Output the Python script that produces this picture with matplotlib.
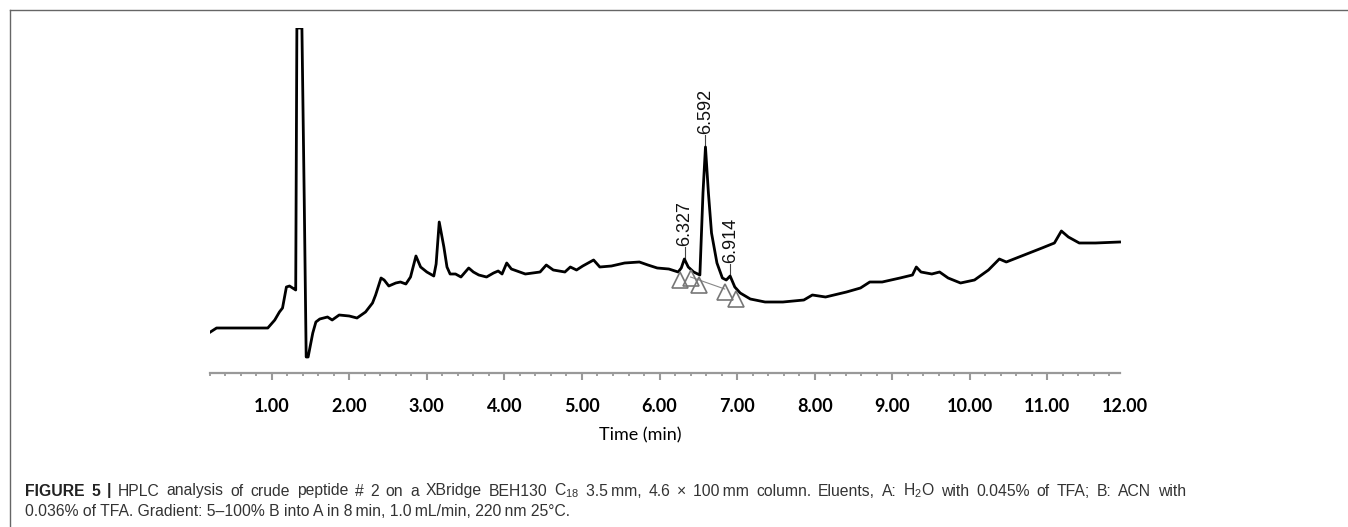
import numpy as np
import matplotlib
matplotlib.use('Agg')
import matplotlib.pyplot as plt
from matplotlib.lines import Line2D
from matplotlib.ticker import FixedLocator

# chromatogram trace (time in min, signal in arbitrary units)
time = [0.21, 0.29, 0.60, 0.95, 1.04, 1.10, 1.14, 1.19, 1.23, 1.29, 1.31, 1.325, 1.39,
        1.42, 1.445, 1.47, 1.53, 1.57, 1.62, 1.72, 1.78, 1.87, 2.00, 2.10, 2.21, 2.30,
        2.34, 2.41, 2.45, 2.51, 2.60, 2.66, 2.73, 2.79, 2.86, 2.92, 3.00, 3.09, 3.12,
        3.16, 3.22, 3.26, 3.30, 3.37, 3.44, 3.54, 3.60, 3.67, 3.77, 3.86, 3.92, 3.97,
        4.03, 4.09, 4.27, 4.46, 4.54, 4.63, 4.78, 4.85, 4.93, 5.01, 5.15, 5.23, 5.38,
        5.55, 5.74, 5.85, 5.97, 6.12, 6.24, 6.28, 6.32, 6.37, 6.44, 6.52, 6.56, 6.592,
        6.63, 6.67, 6.74, 6.81, 6.86, 6.91, 6.97, 7.04, 7.17, 7.36, 7.59, 7.86, 7.97,
        8.14, 8.41, 8.59, 8.71, 8.87, 9.10, 9.26, 9.31, 9.37, 9.51, 9.61, 9.72, 9.88,
        10.06, 10.24, 10.38, 10.47, 10.70, 10.93, 11.09, 11.18, 11.27, 11.41, 11.62, 11.93]
signal = [41, 45, 45, 45, 53, 61, 65, 86, 87, 84, 83, 345, 345,
          173, 16, 16, 40, 51, 54, 56, 53, 58, 57, 55, 61, 70,
          78, 95, 93, 87, 90, 91, 89, 96, 117, 106, 101, 97, 109,
          151, 126, 106, 99, 99, 96, 105, 101, 98, 96, 100, 102, 99,
          110, 104, 99, 101, 108, 103, 101, 106, 103, 107, 113, 106, 107,
          110, 111, 108, 105, 104, 101, 105, 114, 106, 101, 98, 180, 226,
          180, 140, 110, 95, 93, 97, 86, 80, 74, 71, 71, 73, 78,
          76, 81, 85, 91, 91, 95, 98, 106, 101, 99, 101, 95, 90,
          93, 103, 114, 111, 118, 125, 130, 142, 136, 130, 130, 131]

# integrated peaks
peak_rt = [6.327, 6.592, 6.914]
peak_top = [114, 226, 97]
peak_labels = ['6.327', '6.592', '6.914']

# integration start/stop marks
mark_t = [6.26, 6.40, 6.51, 6.84, 6.99]
mark_s = [93, 95, 88, 81, 74]
base_t = [6.40, 6.84]
base_s = [96, 84]

tick_vals = list(range(1, 13))
tick_labels = ['%.2f' % v for v in tick_vals]

caption1 = ('HPLC analysis of crude peptide # 2 on a XBridge BEH130 C$_{18}$ 3.5\u2009mm, '
            '4.6 \u00d7 100\u2009mm column. Eluents, A: H$_{2}$O with 0.045% of TFA; B: ACN with')
caption2 = '0.036% of TFA. Gradient: 5\u2013100% B into A in 8\u2009min, 1.0\u2009mL/min, 220\u2009nm 25\u00b0C.'

plt.rcParams['mathtext.fontset'] = 'custom'
plt.rcParams['mathtext.rm'] = 'Liberation Sans'
plt.rcParams['mathtext.it'] = 'Liberation Sans'

W, H = 1348, 527
fig = plt.figure(figsize=(W / 100, H / 100), dpi=100)
ax = fig.add_axes([209.6 / W, 1 - 373 / H, (1125 - 209.6) / W, (373 - 28) / H])

ax.plot(time, signal, color='black', lw=2.0, solid_joinstyle='round', zorder=3)
ax.plot(base_t, base_s, color='#888888', lw=0.8, zorder=2)
ax.plot(mark_t, mark_s, linestyle='none', marker='^', ms=11, mfc='none',
        mec='#777777', mew=1.2, zorder=4)

for rt, top, lab in zip(peak_rt, peak_top, peak_labels):
    ax.plot([rt, rt], [top, top + 12], color='#444444', lw=0.8)
    ax.text(rt, top + 13, lab, rotation=90, ha='center', va='bottom',
            fontsize=13, family='Liberation Sans', color='#111111')

ax.set_xlim(0.2, 11.93)
ax.set_ylim(0, 345)
for s in ['top', 'left', 'right']:
    ax.spines[s].set_visible(False)
ax.spines['bottom'].set_color('#999999')
ax.spines['bottom'].set_linewidth(1.6)
ax.spines['bottom'].set_bounds(0.2, 11.93)
ax.set_yticks([])

ax.set_xticks(tick_vals)
ax.set_xticklabels(tick_labels, fontsize=13, family='Lato', fontweight='bold')
minor = [round(0.2 * i, 1) for i in range(1, 60) if i % 5 != 0]
ax.xaxis.set_minor_locator(FixedLocator(minor))
ax.tick_params(axis='x', which='major', length=5, width=1.5, color='#999999', pad=13)
ax.tick_params(axis='x', which='minor', length=2.5, width=1.3, color='#999999')
ax.xaxis.get_major_ticks()[-1].tick1line.set_visible(False)

fig.text(640 / W, 1 - 435 / H, 'Time (min)', ha='center', va='center',
         fontsize=13, family='Lato')

# figure frame
fig.add_artist(Line2D([10 / W, 1], [1 - 10 / H, 1 - 10 / H], color='#666666', lw=1))
fig.add_artist(Line2D([10 / W, 10 / W], [0, 1 - 10 / H], color='#666666', lw=1))

# caption, first line justified
cap_fs = 11.3
renderer = fig.canvas.get_renderer()
words = [('FIGURE', 'bold'), ('5', 'bold'), ('|', 'bold')]
words += [(w, 'normal') for w in caption1.split(' ')]
objs = []
total = 0
for w, weight in words:
    t = fig.text(0, 1 - 491 / H, w, fontsize=cap_fs, fontweight=weight,
                 family='Liberation Sans', va='center',
                 color='#222222' if weight == 'bold' else '#333333')
    total += t.get_window_extent(renderer).width
    objs.append(t)
gap = (1186 - 25 - total) / (len(objs) - 1)
x = 25
for t in objs:
    t.set_x(x / W)
    x += t.get_window_extent(renderer).width + gap

fig.text(25 / W, 1 - 512 / H, caption2, fontsize=cap_fs, family='Liberation Sans',
         color='#333333', va='center')

fig.savefig('out.png', dpi=100)
